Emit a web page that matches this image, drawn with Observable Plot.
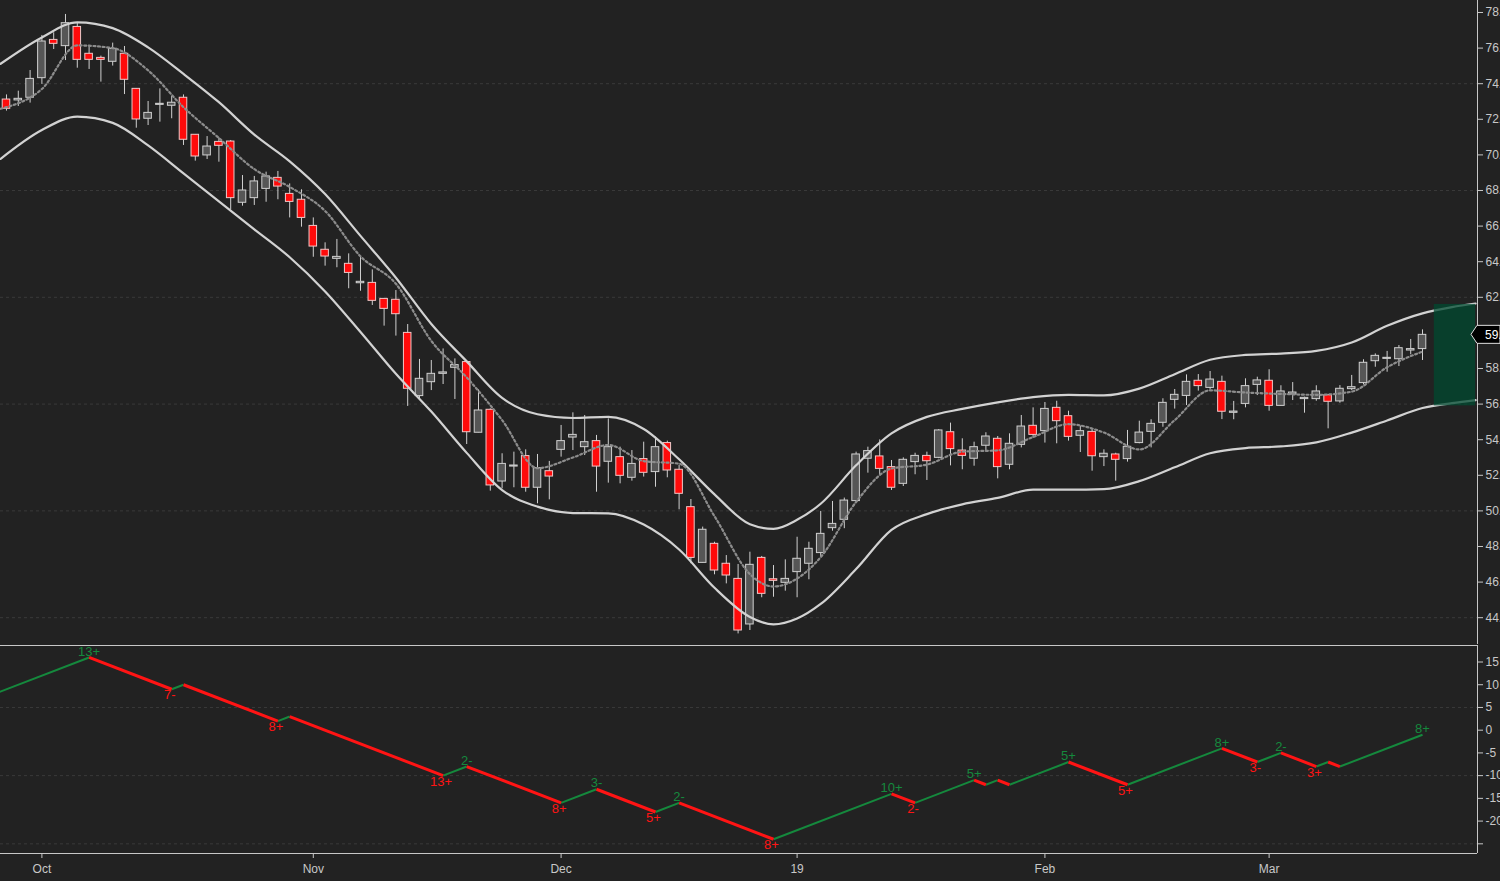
<!DOCTYPE html>
<html>
<head>
<meta charset="utf-8">
<script src="https://cdn.jsdelivr.net/npm/d3@7"></script>
<script src="https://cdn.jsdelivr.net/npm/@observablehq/plot@0.6"></script>
<style>
  html, body { margin: 0; padding: 0; background: #222; overflow: hidden; }
  #chart svg { display: block; }
</style>
</head>
<body>
<div id="chart"></div>
<script>
// ---------- data ----------
const openP = [73.11,73.06,73.21,74.31,76.46,76.11,77.19,75.68,75.45,75.23,
  75.68,73.71,72.03,72.81,72.76,73.21,71.13,69.97,70.73,70.75,
  67.31,67.57,68.09,68.71,67.81,67.48,66.01,64.67,64.16,63.88,
  62.79,62.81,61.91,61.86,60.00,56.45,57.23,57.70,58.04,58.36,
  54.39,55.68,51.65,52.49,53.08,51.30,52.23,53.43,54.12,53.58,
  53.92,52.76,53.02,51.86,52.91,52.18,53.81,52.31,50.21,47.08,
  48.15,47.03,46.18,43.62,47.36,46.16,45.96,46.56,47.03,47.63,
  49.03,49.50,50.55,52.93,53.06,52.46,51.52,52.74,53.09,52.98,
  54.42,53.39,52.93,53.66,54.05,52.59,53.71,54.78,54.48,55.79,
  55.32,54.22,54.44,53.02,53.17,52.91,53.81,54.44,54.95,56.24,
  56.46,57.31,56.91,57.25,55.51,56.01,57.08,57.31,55.90,56.54,
  56.28,56.28,56.50,56.15,56.84,57.18,58.41,58.54,58.52,59.01,59.09];
const highP = [73.37,73.58,74.74,76.71,76.86,77.89,77.44,76.15,75.55,76.28,
  76.09,73.71,73.00,73.71,73.28,73.37,71.13,71.03,70.96,70.81,
  68.84,68.79,69.03,69.07,68.37,68.04,66.46,65.06,65.25,64.44,
  64.25,63.54,61.91,62.38,60.47,58.51,58.45,59.10,58.54,58.36,
  56.80,55.73,53.21,53.30,53.43,53.17,52.78,54.80,55.51,55.36,
  54.24,55.17,53.58,53.39,53.86,54.14,53.92,52.55,50.64,49.09,
  48.24,47.49,46.99,47.68,47.44,46.93,47.25,48.52,48.24,49.97,
  50.53,50.72,53.30,53.58,53.99,52.83,52.98,53.24,53.30,54.57,
  54.93,54.05,53.86,54.39,54.18,54.33,55.36,55.79,56.09,56.16,
  55.60,54.76,54.61,53.43,53.24,54.52,55.04,55.12,56.30,56.82,
  57.64,57.66,57.83,57.57,56.15,57.42,57.51,57.93,57.03,57.21,
  56.39,57.03,56.54,57.04,57.61,58.49,58.82,58.96,59.29,59.63,60.17];
const lowP = [72.46,72.72,72.91,73.96,75.92,75.30,74.87,74.80,74.09,74.99,
  73.39,71.50,71.65,71.84,72.03,70.53,69.65,69.74,69.59,66.91,
  67.12,67.16,67.34,67.48,66.46,65.94,64.25,63.75,63.66,62.48,
  62.34,61.54,60.38,59.82,55.87,56.20,56.76,57.10,56.26,53.73,
  54.39,51.11,51.24,51.30,51.05,50.40,50.62,53.02,53.39,53.11,
  51.05,51.56,51.52,51.67,51.90,51.33,51.86,50.06,47.03,47.08,
  46.41,45.90,43.09,43.28,45.12,45.15,45.49,45.12,46.13,47.44,
  48.86,49.00,50.49,52.12,51.99,51.15,51.37,52.03,51.71,52.93,
  52.53,52.31,52.51,53.39,51.80,52.31,53.54,54.10,53.81,53.77,
  53.92,53.28,52.23,52.49,51.67,52.74,53.77,53.54,54.70,55.72,
  55.92,56.73,56.80,55.13,55.12,55.79,56.48,55.60,55.90,56.20,
  55.49,56.16,54.61,56.05,56.76,57.08,58.07,57.79,58.11,58.77,58.45];
const closeP = [72.59,73.15,74.27,76.37,76.24,77.40,75.34,75.34,75.34,75.96,
  74.22,71.99,72.36,72.87,72.93,70.85,69.91,70.47,70.51,67.57,
  68.00,68.51,68.79,68.22,67.36,66.46,64.85,64.29,64.27,63.37,
  62.87,61.80,61.35,61.05,56.86,57.42,57.70,57.78,58.19,54.42,
  55.64,51.43,52.64,52.55,51.30,52.40,51.93,53.92,54.27,53.86,
  52.49,53.58,51.97,52.64,52.14,53.58,52.27,50.96,47.36,48.94,
  46.65,46.37,43.28,46.97,45.34,46.07,46.18,47.31,47.87,48.71,
  49.27,50.58,53.17,53.36,52.36,51.30,52.87,53.09,52.79,54.52,
  53.47,53.09,53.58,54.18,52.46,53.77,54.74,54.27,55.73,55.04,
  54.16,54.48,53.07,53.21,52.87,53.60,54.40,54.89,56.07,56.52,
  57.25,57.01,57.38,55.57,55.58,57.01,57.33,55.90,56.71,56.65,
  56.35,56.71,56.13,56.86,56.95,58.32,58.71,58.60,59.14,59.09,59.89];

const bandIdx = [-0.5,3,6,9,12,15,18,21,24,27,30,33,36,39,42,45,48,51,54,57,
  60,63,65,67,69,72,75,78,81,84,87,90,93,96,99,102,105,108,111,114,117,120,122.5,124.5];
const upperBand = [75.12,76.6,77.45,77.12,76.04,74.55,72.96,71.14,69.64,67.8,
  65.45,63.1,60.5,58.4,56.35,55.43,55.22,55.28,54.6,52.9,
  50.93,49.25,48.99,49.5,50.4,52.56,54.35,55.28,55.73,56.1,
  56.39,56.52,56.49,56.87,57.68,58.49,58.76,58.84,58.99,59.46,
  60.4,61.1,61.45,61.65];
const lowerBand = [69.78,71.4,72.15,71.8,70.53,68.96,67.39,65.82,64.25,62.33,
  60.05,57.7,55.58,53.26,51.17,50.24,49.88,49.86,49.23,47.83,
  45.68,44.04,43.62,43.95,44.77,46.73,48.93,49.82,50.37,50.73,
  51.19,51.19,51.22,51.67,52.45,53.24,53.53,53.62,53.85,54.4,
  55.08,55.78,56.05,56.22];

const midIdx = [-0.5,3,6,9,12,15,18,21,24,27,30,33,36,39,42,45,48,51,54,57,
  60,63,65,67,69,72,75,78,81,84,87,90,93,96,99,102,105,108,111,114,117,120];
const midVal = [72.59,73.7,76.15,76.0,74.75,72.68,70.95,69.2,68.2,66.85,
  64.3,62.76,59.55,57.5,55.1,52.4,53.0,53.7,52.8,52.65,
  49.7,46.45,45.75,46.2,47.4,50.5,52.38,52.6,53.33,53.4,
  54.15,54.87,54.4,53.45,55.1,56.77,56.65,56.57,56.52,56.7,
  58.07,58.95];

// projection box (index range and price range)
const projIdx = [121, 124.5];
const projPrice = [55.9, 61.6];

// zigzag counter (lower panel)
const zzIdx = [-1,7,14,15,23,24,37,39,47,50,55,57,65,75,77,82,83,84,85,90,95,103,106,108,111,112,113,120];
const zzVal = [8,16,9,10,2,3,-10,-8,-16,-13,-18,-16,-24,-14,-16,-11,-12,-11,-12,-7,-12,-4,-7,-5,-8,-7,-8,-1];
const zzLabel = ["","13+","7-","","8+","","13+","2-","8+","3-","5+","2-","8+","10+","2-","5+","","","","5+","5+","8+","3-","2-","3+","","","8+"];

// axes
const monthIdx = [3, 26, 47, 67, 88, 107];
const monthLabels = ["Oct", "Nov", "Dec", "19", "Feb", "Mar"];
const priceTicks = d3.range(44, 79, 2);
const priceGrid = [74, 68, 62, 56, 50, 44];
const zzTicks = [15, 10, 5, 0, -5, -10, -15, -20, -25];
const zzGrid = [5, -10, -25];

// ---------- layout ----------
const W = 1500, RIGHT = 23;
const xDomain = [-0.508, 124.66];
const topDomain = [42.494, 78.674];
const botDomain = [-27.13, 18.63];
const FONT = "'Liberation Sans Narrow', 'Arial Narrow', 'Liberation Sans', Arial, sans-serif";
const AX = "#c8c8c8";
const GREEN = "#15893d", RED = "#ff1414";
const lastClose = closeP[closeP.length - 1];

const candles = openP.map((o, i) => ({i, o, h: highP[i], l: lowP[i], c: closeP[i], up: closeP[i] >= o}));
const upper = bandIdx.map((x, k) => ({x, y: upperBand[k]}));
const lower = bandIdx.map((x, k) => ({x, y: lowerBand[k]}));
const mid = midIdx.map((x, k) => ({x, y: midVal[k]}));
const proj = [{x1: projIdx[0], x2: projIdx[1], y1: projPrice[0], y2: projPrice[1]}];

const topPlot = Plot.plot({
  width: W, height: 644,
  marginLeft: 0, marginRight: RIGHT, marginTop: 0, marginBottom: 0,
  style: {background: "#222", color: AX, fontFamily: FONT, fontSize: "12px"},
  x: {domain: xDomain, axis: null},
  y: {domain: topDomain, axis: "right", ticks: priceTicks,
      // the tick label hidden behind the last-price flag is left blank
      tickFormat: d => Math.abs(d - lastClose) < 0.6 ? "" : d.toFixed(2),
      tickSize: 5, tickPadding: 3, label: null},
  marks: [
    Plot.ruleY(priceGrid, {stroke: "#3a3a3a", strokeDasharray: "3 3"}),
    Plot.ruleX(candles, {x: "i", y1: "l", y2: "h", stroke: "#d0d0d0", strokeWidth: 1}),
    Plot.rect(candles.filter(d => d.up), {x1: d => d.i - 0.32, x2: d => d.i + 0.32, y1: "o", y2: "c",
      fill: "#565656", stroke: "#d0d0d0", strokeWidth: 1}),
    Plot.rect(candles.filter(d => !d.up), {x1: d => d.i - 0.32, x2: d => d.i + 0.32, y1: "o", y2: "c",
      fill: "#ff0a0a", stroke: "#f0c8c8", strokeWidth: 1}),
    Plot.line(upper, {x: "x", y: "y", stroke: "#d2d2d2", strokeWidth: 2.2, curve: "monotone-x"}),
    Plot.line(lower, {x: "x", y: "y", stroke: "#d2d2d2", strokeWidth: 2.2, curve: "monotone-x"}),
    Plot.line(mid, {x: "x", y: "y", stroke: "#8c8c8c", strokeWidth: 2.2, strokeDasharray: "2 2.6", curve: "monotone-x"}),
    Plot.rect(proj, {x1: "x1", x2: "x2", y1: "y1", y2: "y2", fill: "#004a30", fillOpacity: 0.75}),
    Plot.ruleX([xDomain[1]], {stroke: AX, strokeWidth: 1})
  ]
});

// zigzag segments
const segs = zzIdx.slice(1).map((x2, k) => ({
  x1: zzIdx[k], y1: zzVal[k], x2, y2: zzVal[k + 1], up: zzVal[k + 1] > zzVal[k]
}));
const pivots = zzIdx.map((x, k) => ({
  x, y: zzVal[k], label: zzLabel[k],
  up: k > 0 ? zzVal[k] > zzVal[k - 1] : true
})).filter(d => d.label !== "");

const botPlot = Plot.plot({
  width: W, height: 237,
  marginLeft: 0, marginRight: RIGHT, marginTop: 1, marginBottom: 28,
  style: {background: "#222", color: AX, fontFamily: FONT, fontSize: "12px"},
  x: {domain: xDomain, axis: "bottom", ticks: monthIdx,
      tickFormat: d => monthLabels[monthIdx.indexOf(d)], tickSize: 5, tickPadding: 6, label: null},
  y: {domain: botDomain, axis: "right", ticks: zzTicks,
      tickFormat: d => d === -25 ? "" : String(d), tickSize: 5, tickPadding: 3, label: null},
  marks: [
    Plot.ruleY(zzGrid, {stroke: "#3a3a3a", strokeDasharray: "3 3"}),
    Plot.link(segs.filter(d => d.up), {x1: "x1", y1: "y1", x2: "x2", y2: "y2",
      stroke: GREEN, strokeWidth: 2, clip: true}),
    Plot.link(segs.filter(d => !d.up), {x1: "x1", y1: "y1", x2: "x2", y2: "y2",
      stroke: RED, strokeWidth: 3, clip: true}),
    Plot.text(pivots.filter(d => d.up), {x: "x", y: "y", text: "label", fill: GREEN,
      dy: -6, fontSize: 13, lineAnchor: "middle"}),
    Plot.text(pivots.filter(d => !d.up), {x: "x", y: "y", text: "label", fill: RED,
      dy: 6, dx: -2, fontSize: 13, lineAnchor: "middle"}),
    Plot.ruleY([botDomain[1]], {stroke: AX, strokeWidth: 1.2}),
    Plot.ruleY([botDomain[0]], {stroke: AX, strokeWidth: 1.2}),
    Plot.ruleX([xDomain[1]], {stroke: AX, strokeWidth: 1})
  ]
});

const chart = document.getElementById("chart");
chart.appendChild(topPlot);
chart.appendChild(botPlot);

// last price flag on the right axis, placed with the plot's own scales
const yL = topPlot.scale("y").apply(lastClose);
const xR = topPlot.scale("x").apply(xDomain[1]);
const g = d3.select(topPlot).append("g");
g.append("path")
  .attr("d", `M${xR - 6},${yL} L${xR},${yL - 9} L${W},${yL - 9} L${W},${yL + 9} L${xR},${yL + 9} Z`)
  .attr("fill", "#000").attr("stroke", "#e0e0e0").attr("stroke-width", 1);
g.append("text")
  .attr("x", xR + 8).attr("y", yL).attr("dy", "0.35em")
  .attr("text-anchor", "start")
  .attr("fill", "#fff").attr("font-size", 12).attr("font-family", FONT)
  .text(lastClose.toFixed(2));
</script>
</body>
</html>
